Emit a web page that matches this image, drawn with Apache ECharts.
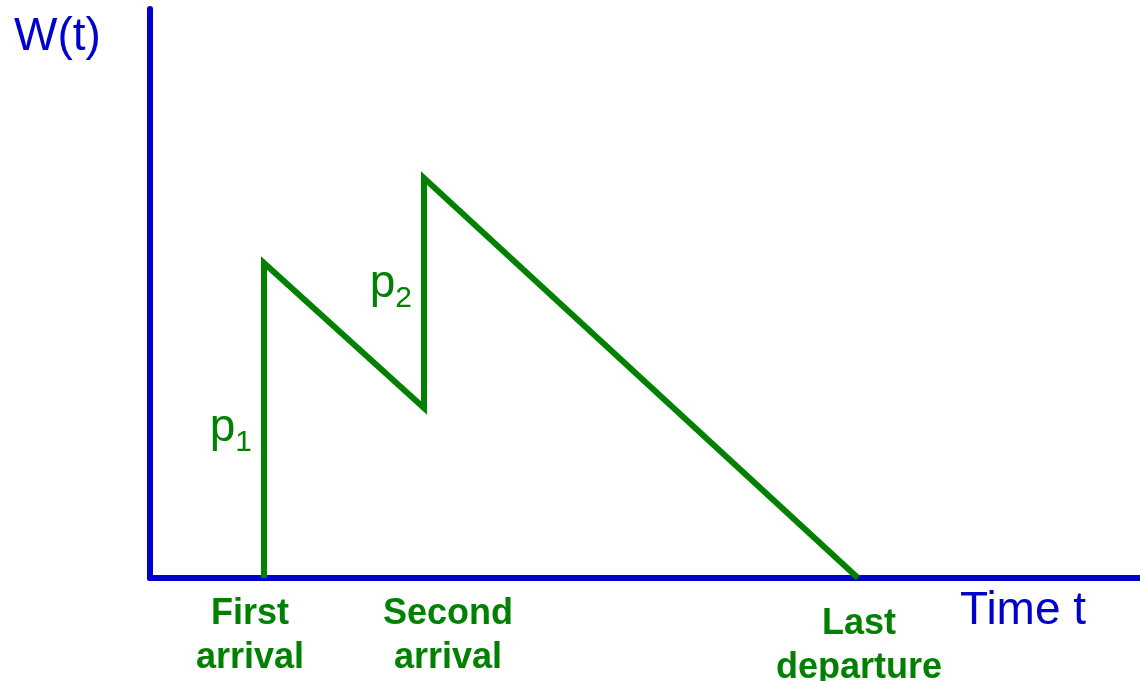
<!DOCTYPE html>
<html lang="en">
<head>
  <meta charset="UTF-8">
  <title>W(t)</title>
  <script src="https://cdn.jsdelivr.net/npm/echarts@6.0.0/dist/echarts.min.js"></script>
  <style>
    html, body { margin: 0; padding: 0; background: #fff; }
    #chart { width: 1140px; height: 681px; }
  </style>
</head>
<body>
  <div id="chart"></div>

<script>
  // work W(t) against time t
  const times = [114, 114, 274, 274, 708]
  const work = [0, 315, 170, 400, 0]
  const eventTimes = [114, 274, 708]
  const eventLabels = ['First\narrival', 'Second\narrival', 'Last\ndeparture']
  const jumpLabels = ['1', '2']   // subscripts of p
  const jumpAt = [[114, 120], [274, 264]]  // where the p labels sit (t, W)

  const blue = '#0000CC'
  const green = '#008000'
  const font = 'Liberation Sans, Arial, sans-serif'

  const chart = echarts.init(document.getElementById('chart'))

  const option = {
    animation: false,
    grid: { left: 150, right: 0, top: 9, bottom: 103 },
    xAxis: {
      type: 'value', min: 0, max: 990,
      axisLine: { show: true, onZero: false, lineStyle: { color: blue, width: 6 } },
      axisTick: { show: false }, axisLabel: { show: false }, splitLine: { show: false }
    },
    yAxis: {
      type: 'value', min: 0, max: 569,
      axisLine: { show: true, onZero: false, lineStyle: { color: blue, width: 6 } },
      axisTick: { show: false }, axisLabel: { show: false }, splitLine: { show: false }
    },
    series: [{
      type: 'line',
      data: times.map((t, i) => [t, work[i]]),
      symbol: 'none',
      lineStyle: { color: green, width: 6, join: 'miter', cap: 'butt' }
    }]
  }
  chart.setOption(option)

  // annotations placed from the data positions
  const graphics = []
  graphics.push({
    type: 'text', left: 14, top: 14,
    style: { text: 'W(t)', fill: blue, font: '46px ' + font }
  })
  graphics.push({
    type: 'text', left: 960, top: 588,
    style: { text: 'Time t', fill: blue, font: '46px ' + font }
  })
  eventTimes.forEach((t, i) => {
    const p = chart.convertToPixel({ gridIndex: 0 }, [t, 0])
    const dx = [-14, 24, 1][i]
    const dy = [14, 14, 24][i]
    graphics.push({
      type: 'text', x: p[0] + dx, y: p[1] + dy,
      style: {
        text: eventLabels[i], fill: green, align: 'center', verticalAlign: 'top',
        font: 'bold 36px ' + font, lineHeight: 44
      }
    })
  })
  jumpAt.forEach((pt, i) => {
    const p = chart.convertToPixel({ gridIndex: 0 }, pt)
    graphics.push({
      type: 'text', x: p[0] - 12, y: p[1] - 7,
      style: {
        text: '{p|p}{s|' + jumpLabels[i] + '}', align: 'right', verticalAlign: 'bottom',
        rich: {
          p: { fontSize: 46, fontFamily: font, fill: green, color: green, verticalAlign: 'bottom' },
          s: { fontSize: 30, fontFamily: font, fill: green, color: green, verticalAlign: 'bottom', padding: [0, 0, -7, 0] }
        }
      }
    })
  })
  chart.setOption({ graphic: graphics })
</script>
</body>
</html>
